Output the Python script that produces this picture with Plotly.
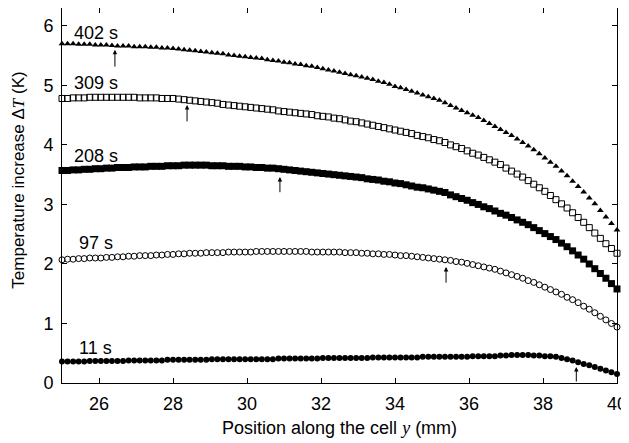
import numpy as np
import plotly.graph_objects as go

# Sampling positions along the cell (mm)
y_pos = np.round(np.arange(101) * 0.15 + 25.0, 2)

t402 = [5.70,5.70,5.70,5.69,5.69,5.69,5.68,5.68,5.68,5.67,
        5.66,5.66,5.66,5.65,5.65,5.65,5.64,5.64,5.63,5.63,
        5.62,5.61,5.60,5.59,5.58,5.57,5.56,5.55,5.54,5.53,
        5.51,5.50,5.49,5.48,5.47,5.46,5.45,5.43,5.42,5.41,
        5.39,5.38,5.36,5.35,5.33,5.32,5.30,5.28,5.26,5.24,
        5.22,5.20,5.18,5.16,5.14,5.12,5.10,5.07,5.05,5.02,
        4.98,4.96,4.93,4.90,4.87,4.84,4.81,4.78,4.75,4.71,
        4.66,4.62,4.58,4.54,4.50,4.46,4.41,4.36,4.31,4.26,
        4.21,4.16,4.10,4.04,3.98,3.92,3.85,3.78,3.71,3.64,
        3.56,3.48,3.39,3.30,3.21,3.11,3.01,2.90,2.79,2.68,
        2.57]

t309 = [4.78,4.78,4.79,4.79,4.79,4.80,4.80,4.80,4.80,4.80,
        4.80,4.80,4.80,4.80,4.79,4.79,4.79,4.79,4.78,4.78,
        4.78,4.77,4.76,4.75,4.74,4.73,4.72,4.71,4.70,4.68,
        4.67,4.66,4.65,4.64,4.63,4.62,4.61,4.60,4.59,4.57,
        4.56,4.55,4.54,4.53,4.52,4.51,4.49,4.48,4.47,4.45,
        4.44,4.42,4.40,4.39,4.37,4.35,4.33,4.31,4.29,4.27,
        4.25,4.23,4.21,4.19,4.16,4.14,4.12,4.09,4.07,4.04,
        4.00,3.97,3.94,3.90,3.86,3.83,3.79,3.75,3.71,3.67,
        3.61,3.56,3.51,3.46,3.40,3.34,3.28,3.22,3.15,3.08,
        3.01,2.94,2.86,2.78,2.70,2.61,2.52,2.43,2.34,2.26,
        2.18]

t208 = [3.57,3.57,3.58,3.58,3.59,3.59,3.60,3.60,3.61,3.61,
        3.62,3.62,3.62,3.63,3.63,3.63,3.64,3.64,3.64,3.65,
        3.65,3.65,3.66,3.66,3.66,3.66,3.66,3.65,3.65,3.65,
        3.64,3.64,3.64,3.63,3.63,3.62,3.62,3.61,3.61,3.60,
        3.59,3.58,3.57,3.56,3.55,3.54,3.53,3.52,3.51,3.50,
        3.49,3.48,3.47,3.46,3.45,3.43,3.42,3.41,3.39,3.38,
        3.36,3.35,3.33,3.31,3.29,3.28,3.26,3.24,3.22,3.20,
        3.16,3.13,3.10,3.07,3.03,3.00,2.96,2.93,2.89,2.85,
        2.82,2.78,2.74,2.70,2.66,2.61,2.56,2.51,2.46,2.41,
        2.35,2.29,2.22,2.15,2.08,2.00,1.92,1.84,1.76,1.67,
        1.58]

t97 = [2.07,2.08,2.08,2.09,2.09,2.10,2.10,2.10,2.11,2.11,
       2.12,2.12,2.13,2.13,2.14,2.14,2.14,2.15,2.15,2.16,
       2.16,2.17,2.17,2.18,2.18,2.18,2.19,2.19,2.19,2.19,
       2.20,2.20,2.20,2.20,2.20,2.21,2.21,2.21,2.21,2.21,
       2.21,2.21,2.21,2.21,2.21,2.20,2.20,2.20,2.20,2.20,
       2.20,2.19,2.19,2.19,2.18,2.18,2.17,2.17,2.16,2.16,
       2.15,2.14,2.14,2.13,2.12,2.11,2.10,2.09,2.08,2.07,
       2.06,2.04,2.03,2.01,1.99,1.97,1.95,1.93,1.91,1.88,
       1.85,1.82,1.79,1.76,1.72,1.69,1.65,1.61,1.57,1.53,
       1.49,1.44,1.40,1.35,1.29,1.24,1.18,1.12,1.06,1.00,
       0.94]

t11 = [0.36,0.36,0.36,0.36,0.36,0.37,0.37,0.37,0.37,0.37,
       0.37,0.37,0.38,0.38,0.38,0.38,0.38,0.38,0.38,0.39,
       0.39,0.39,0.39,0.39,0.39,0.39,0.39,0.40,0.40,0.40,
       0.40,0.40,0.40,0.40,0.40,0.40,0.40,0.40,0.40,0.41,
       0.41,0.41,0.41,0.41,0.41,0.41,0.41,0.42,0.42,0.42,
       0.42,0.42,0.42,0.42,0.42,0.42,0.43,0.43,0.43,0.43,
       0.43,0.43,0.43,0.43,0.43,0.44,0.44,0.44,0.44,0.44,
       0.44,0.44,0.44,0.44,0.45,0.45,0.45,0.45,0.45,0.46,
       0.46,0.47,0.47,0.47,0.47,0.46,0.46,0.45,0.45,0.44,
       0.42,0.40,0.38,0.35,0.32,0.30,0.27,0.24,0.21,0.18,
       0.15]

series_labels = ["402 s", "309 s", "208 s", "97 s", "11 s"]
label_x = [25.27, 25.27, 25.27, 25.4, 25.4]
label_y = [5.88, 5.04, 3.82, 2.35, 0.59]

arrow_x = [26.43, 28.38, 30.89, 35.38, 38.9]
arrow_tail = [5.29, 4.37, 3.18, 1.66, 0.0]
arrow_head = [5.60, 4.67, 3.46, 1.95, 0.27]

x_ticks = [26, 28, 30, 32, 34, 36, 38, 40]
y_ticks = [0, 1, 2, 3, 4, 5, 6]

x_title = 'Position along the cell <span style="font-family:Liberation Serif"><i>y</i></span> (mm)'
y_title = 'Temperature increase Δ<span style="font-family:Liberation Serif"><i>T</i></span> (K)'

fig = go.Figure()
styles = [
    (t402, dict(symbol="triangle-up", size=6, color="black")),
    (t309, dict(symbol="square-open", size=6, color="black", line=dict(width=1))),
    (t208, dict(symbol="square", size=7, color="black")),
    (t97, dict(symbol="circle-open", size=6, color="black", line=dict(width=1))),
    (t11, dict(symbol="circle", size=6, color="black")),
]
for vals, mk in styles:
    fig.add_trace(go.Scatter(x=y_pos, y=vals, mode="markers", marker=mk,
                             cliponaxis=False, showlegend=False))

for txt, lx, ly in zip(series_labels, label_x, label_y):
    fig.add_annotation(x=lx, y=ly, text=txt, showarrow=False, xanchor="left",
                       yanchor="middle", font=dict(size=18, color="black"))

for ax_, t0, h0 in zip(arrow_x, arrow_tail, arrow_head):
    fig.add_annotation(x=ax_, y=h0, ax=ax_, ay=t0, axref="x", ayref="y",
                       xref="x", yref="y", text="", showarrow=True,
                       arrowhead=2, arrowsize=0.9, arrowwidth=1, arrowcolor="black")

# axis titles placed as annotations (paper coordinates)
fig.add_annotation(xref="paper", yref="paper", x=0.5, y=-0.12, text=x_title,
                   showarrow=False, xanchor="center", yanchor="middle",
                   font=dict(size=18, color="black"))
fig.add_annotation(xref="paper", yref="paper", x=-0.079, y=0.54, text=y_title,
                   showarrow=False, xanchor="center", yanchor="middle", textangle=-90,
                   font=dict(size=17, color="black"))

axis_common = dict(showline=True, linecolor="black", linewidth=1, mirror="ticks",
                   ticks="inside", ticklen=5, tickcolor="black", showgrid=False,
                   zeroline=False, tickfont=dict(size=18, color="black"),
                   automargin=False)

fig.update_xaxes(range=[25, 40], tickvals=x_ticks, ticklabelstandoff=4, **axis_common)
fig.update_yaxes(range=[0, 6.3], tickvals=y_ticks, ticklabelstandoff=4, **axis_common)

# the page body adds an 8 px offset; the figure is sized so the plot area
# lands at x 62..617 and y 8..383 in the 629x443 window
fig.update_layout(width=621, height=435, margin=dict(l=54, r=12, t=0, b=60),
                  plot_bgcolor="white", paper_bgcolor="white",
                  font=dict(family="Liberation Sans, Arial, sans-serif", color="black"))

fig.write_html("out.html")
